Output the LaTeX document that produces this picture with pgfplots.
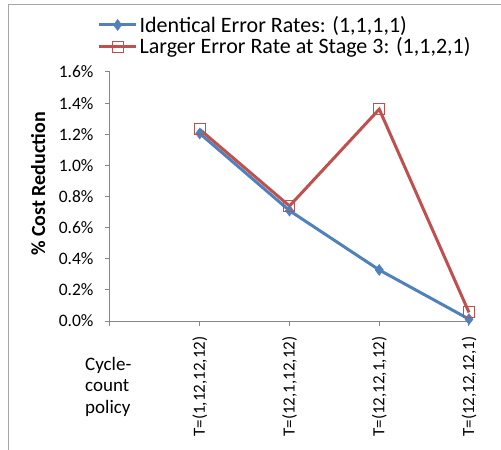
\documentclass[border=0pt]{standalone}
\usepackage{pgfplots}
\pgfplotsset{compat=1.18}
\usepackage{fontspec}
\setmainfont{Carlito}
\definecolor{eblue}{HTML}{4F81BD}
\definecolor{ered}{HTML}{C0504D}
\definecolor{axgray}{HTML}{868686}
\begin{document}
\begin{tikzpicture}
\useasboundingbox (0pt,0pt) rectangle (501pt,450pt);
\draw[gray!70, line width=1pt] (8pt,0pt) -- (8pt,445pt) -- (501pt,445pt);
\begin{axis}[
  at={(110pt,129pt)}, anchor=origin,
  scale only axis, width=359pt, height=249pt,
  xmin=0, xmax=4, ymin=0, ymax=1.6,
  axis x line*=bottom, axis y line*=left,
  axis line style={axgray, line width=1pt},
  every outer x axis line/.append style={-},
  every outer y axis line/.append style={-},
  xtick={0,1,2,3,4},
  xticklabels={,{T=(1,12,12,12)},{T=(12,1,12,12)},{T=(12,12,1,12)},{T=(12,12,12,1)}},
  x tick label style={rotate=90, anchor=east, font=\fontsize{17}{19}\selectfont, xshift=-7pt},
  ytick={0,0.2,...,1.6},
  yticklabel={\pgfmathprintnumber[fixed,fixed zerofill,precision=1]{\tick}\%},
  y tick label style={font=\fontsize{17.5}{19}\selectfont, xshift=-8pt},
  /pgf/number format/assume math mode=true,
  tick align=outside, tick style={axgray, line width=1pt},
  major tick length=5pt,
  ylabel={\textbf{\% Cost Reduction}},
  ylabel style={font=\fontsize{20}{22}\selectfont, at={(rel axis cs:-0.2,0.55)}, anchor=center},
  clip=false,
  legend style={at={(rel axis cs:-0.035,1.233)}, anchor=north west, draw=none, fill=none,
    font=\fontsize{22}{24}\selectfont, row sep=0pt, inner sep=0pt},
  legend cell align=left,
  legend image code/.code={\draw[mark repeat=2,mark phase=2,#1] plot coordinates {(0cm,0cm) (0.65cm,0cm) (1.3cm,0cm)};},
]
\addplot[eblue, line width=3pt, mark=diamond*, mark size=5.5pt, mark options={line width=0.5pt}]
  coordinates {(1,1.205) (2,0.709) (3,0.328) (4,0.012)};
\addlegendentry{Identical Error Rates: (1,1,1,1)}
\addplot[ered, line width=3pt, mark=square, mark size=5.5pt, mark options={line width=1pt, fill=none}]
  coordinates {(1,1.231) (2,0.739) (3,1.361) (4,0.055)};
\addlegendentry{Larger Error Rate at Stage 3: (1,1,2,1)}
\node[anchor=north west, align=left, font=\fontsize{19}{21.5}\selectfont, inner sep=0pt]
  at ([xshift=-25pt,yshift=-36pt]axis cs:0,0) {Cycle-\\count\\policy};
\end{axis}
\end{tikzpicture}
\end{document}
